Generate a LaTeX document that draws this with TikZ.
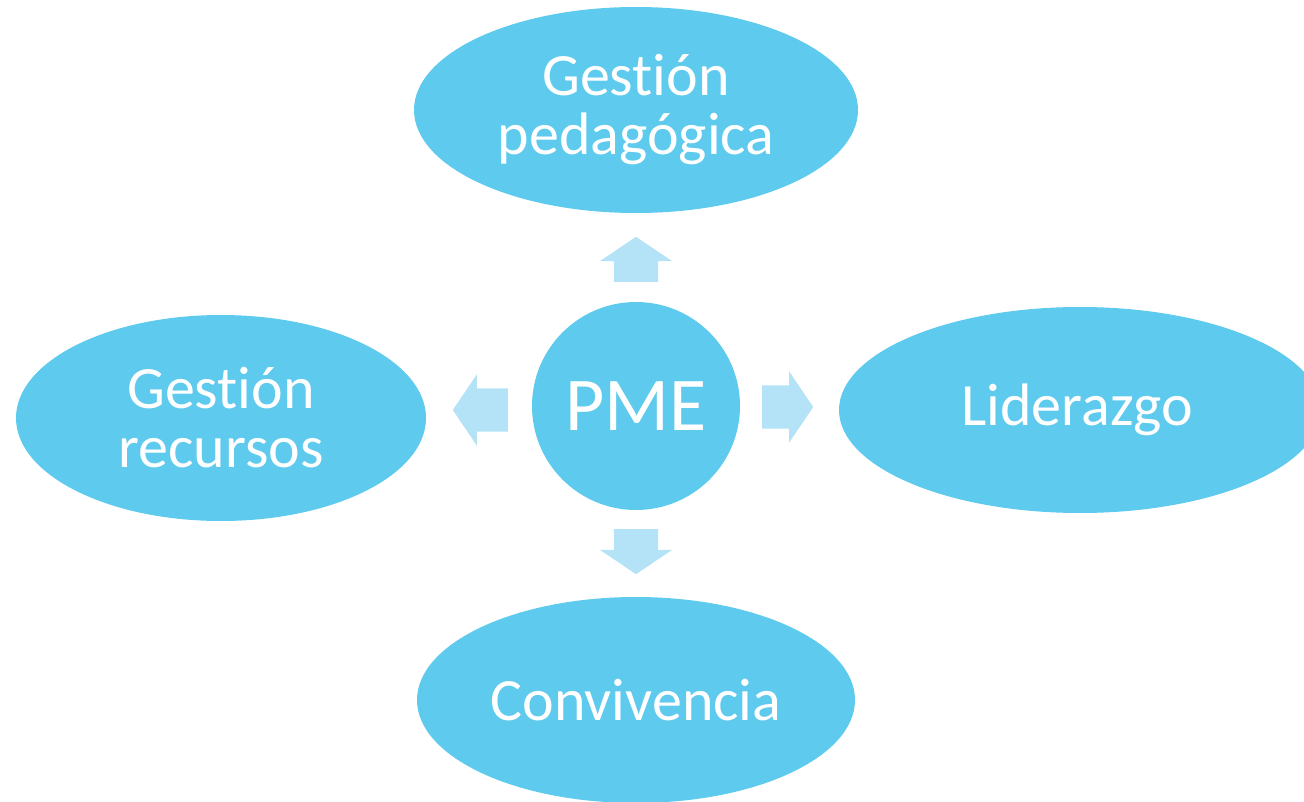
\documentclass[tikz,border=0pt]{standalone}
\usepackage{fontspec}
\setmainfont{Carlito}[RawFeature={-liga;-clig;-calt;-dlig}]
\usetikzlibrary{shapes.geometric,shapes.arrows}
\definecolor{pmeblue}{RGB}{94,202,238}
\definecolor{arrowblue}{RGB}{180,226,246}
\begin{document}
\begin{tikzpicture}[
		x=1pt, y=-1pt,
		area/.style={ellipse, fill=pmeblue, inner sep=0pt, text=white, align=center,
			font=\fontsize{60}{59}\selectfont},
		blockarrow/.style={single arrow, fill=arrowblue, anchor=tail,
			minimum width=71pt, single arrow head extend=14pt, single arrow tip angle=112},
		sidearrow/.style={blockarrow, inner xsep=0pt, inner ysep=21.5pt},
		uparrow/.style={blockarrow, inner xsep=22pt, inner ysep=0pt}
	]
	\clip (0,0) rectangle (1304,802);

	\node[circle, fill=pmeblue, minimum size=208pt, inner sep=0pt, text=white,
		font=\fontsize{76}{76}\selectfont] (pme) at (636,406) {PME};

	\node[area, minimum width=444pt, minimum height=206pt] (pedagogica) at (636,110) {Gestión\\pedagógica};
	\node[area, minimum width=410pt, minimum height=206pt] (recursos) at (221,418) {Gestión\\recursos};
	\node[area, minimum width=482pt, minimum height=206pt] (liderazgo) at (1080,410) {\hspace*{-6pt}Liderazgo};
	\node[area, minimum width=438pt, minimum height=206pt] (convivencia) at (636,700) {Convivencia};

	\node[uparrow, minimum height=45pt, shape border rotate=90] (up) at (636,282) {};
	\node[uparrow, minimum height=45pt, shape border rotate=270] (down) at (636,529) {};
	\node[sidearrow, minimum height=51pt, shape border rotate=0] (right) at (762,407) {};
	\node[sidearrow, minimum height=55pt, shape border rotate=180] (left) at (508,410) {};
\end{tikzpicture}
\end{document}
